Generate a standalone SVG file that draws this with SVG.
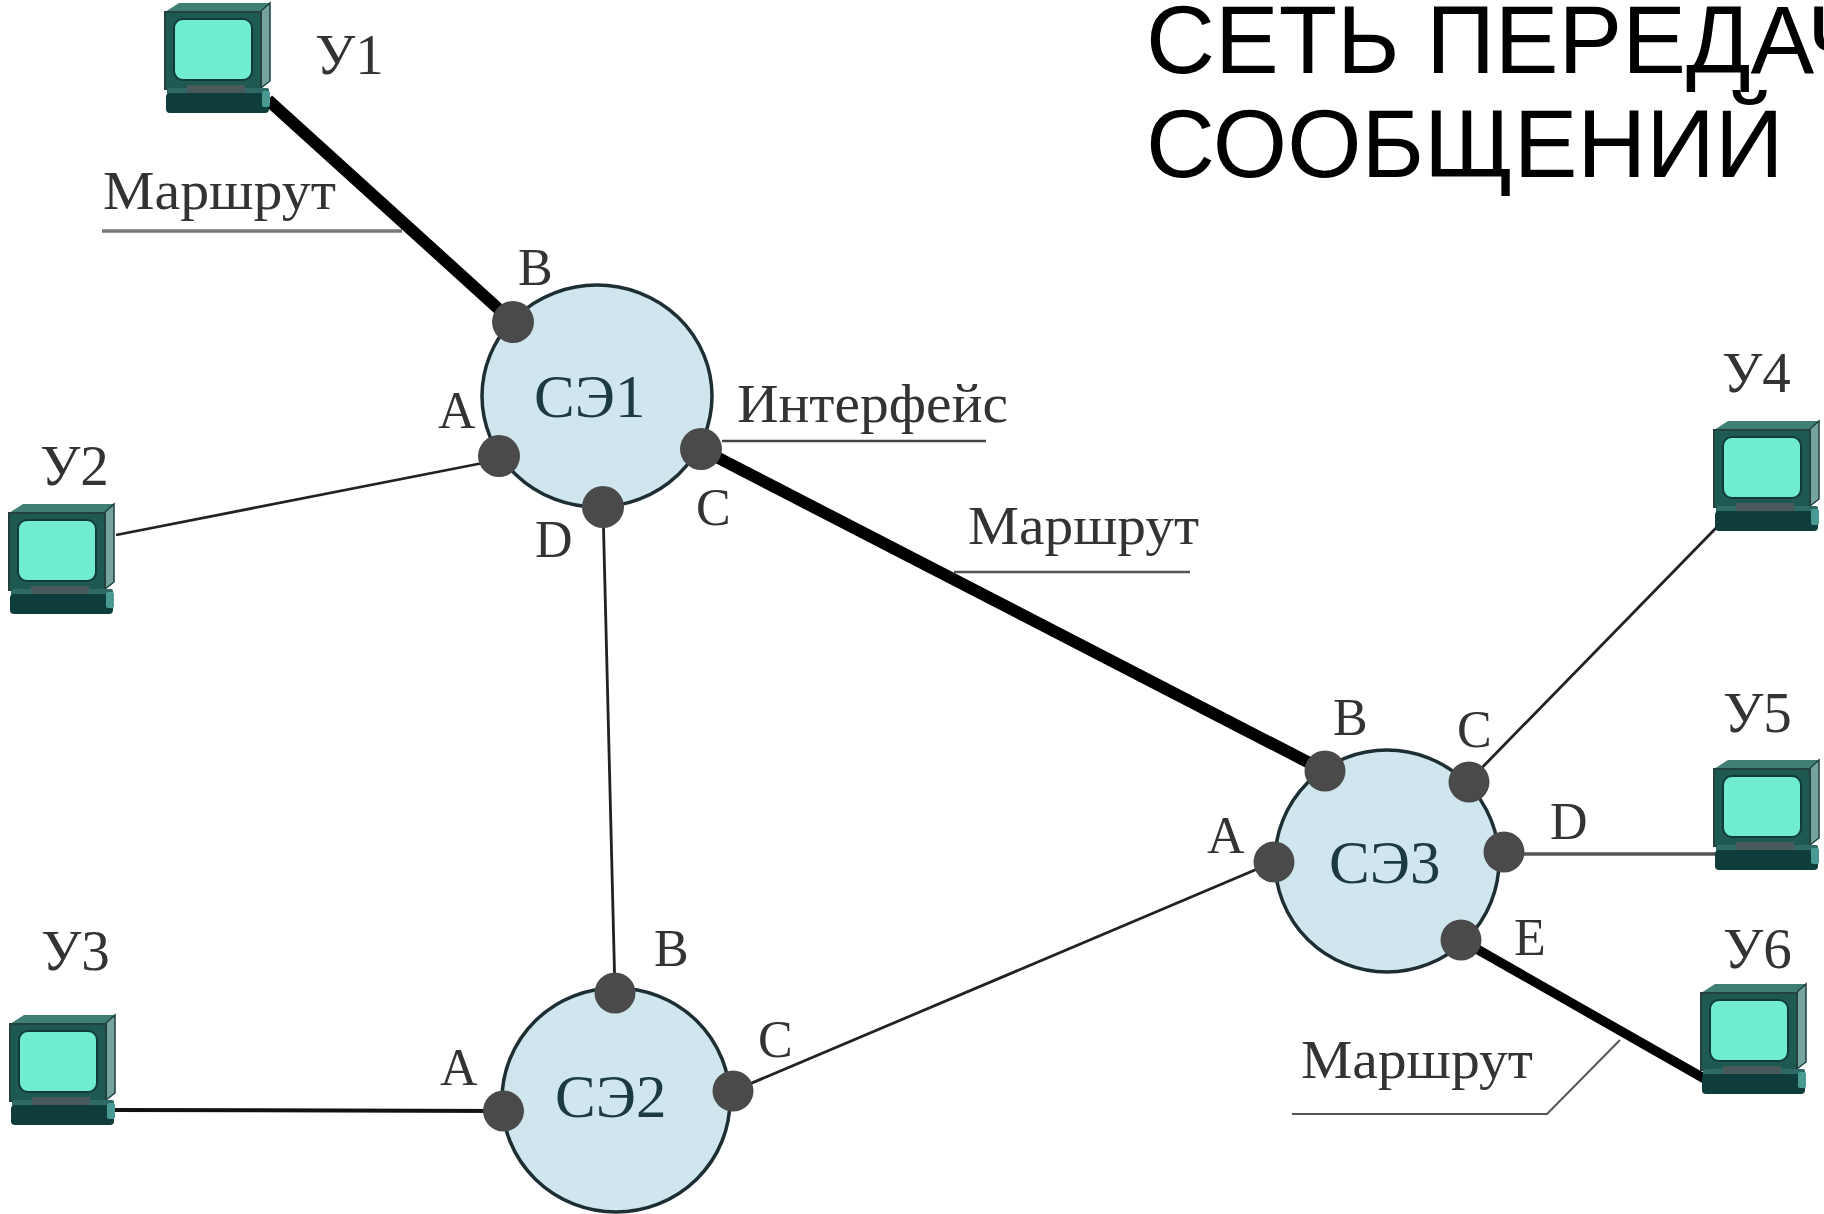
<svg xmlns="http://www.w3.org/2000/svg" width="1824" height="1214" viewBox="0 0 1824 1214">
<style>
.t{font-family:"Liberation Serif","Times New Roman",serif;fill:#333;font-size:52px}
.r{font-size:54px}
.u{font-size:57px}
.se{font-size:61px;fill:#1c3a44}
.title{font-family:"Liberation Sans",Arial,sans-serif;font-size:95.5px;fill:#000}
.sw{fill:#cfe6ee;stroke:#1d2f33;stroke-width:3.5}
.p{fill:#4a4a4a}
.thick{stroke:#000;stroke-width:12;fill:none}
.thin{stroke:#222;stroke-width:2.8;fill:none}
.lead{stroke:#777;stroke-width:3.5;fill:none}
</style>
<defs>
<g id="pc">
<polygon points="0,9 14,0 105,0 96,8" fill="#3f7f74"/>
<polygon points="96,8 105,0 105,78 96,85" fill="#74a49c"/>
<path d="M96,8L105,0V78L96,85" fill="none" stroke="#1d3f3e" stroke-width="1.5"/>
<rect x="0" y="9" width="96" height="77" fill="#1f5a52" stroke="#24403f" stroke-width="2"/>
<rect x="9" y="16" width="78" height="61" rx="9" fill="#70ecd0" stroke="#123a38" stroke-width="2"/>
<rect x="2" y="85" width="102" height="9" rx="2" fill="#2e6b66"/>
<rect x="22" y="82" width="58" height="8" fill="#4a5a5a"/>
<rect x="1" y="90" width="103" height="20" rx="4" fill="#0e3d3c"/>
<rect x="97" y="88" width="8" height="16" rx="2" fill="#4a9a94"/>
</g>
</defs>
<rect width="1824" height="1214" fill="#fff"/>
<text id="title" class="title"><tspan x="1146" y="73">СЕТЬ ПЕРЕДАЧ</tspan><tspan x="1146" y="177">СООБЩЕНИЙ</tspan></text>
<g id="connectors">
<path class="thick" d="M268,100L513,322"/>
<path class="thin" d="M116,535L483,463"/>
<path class="thin" d="M603,507L615,993"/>
<path class="thick" d="M701,449L1325,771"/>
<path class="thin" style="stroke-width:4;stroke:#111" d="M112,1110L504,1111"/>
<path class="thin" d="M733,1091L1274,862"/>
<path class="thin" d="M1468,782L1716,528"/>
<path class="thin" style="stroke-width:3.5;stroke:#555" d="M1504,854L1716,854"/>
<path class="thick" style="stroke-width:9.5" d="M1461,940L1705,1079"/>
<path class="lead" d="M102,231L402,231"/>
<path class="lead" style="stroke:#444;stroke-width:2.5" d="M722,441L986,441"/>
<path class="lead" style="stroke:#555;stroke-width:2.5" d="M954,572L1190,572"/>
<path class="lead" style="stroke:#555;stroke-width:2" d="M1292,1114L1547,1114L1620,1040"/>
</g>
<g id="y1"><use href="#pc" x="165" y="3"/><text class="t u" x="315" y="74">У1</text></g>
<g id="y2"><use href="#pc" x="9" y="504"/><text class="t u" x="40" y="485">У2</text></g>
<g id="y3"><use href="#pc" x="10" y="1015"/><text class="t u" x="41" y="970">У3</text></g>
<g id="y4"><use href="#pc" x="1714" y="421"/><text class="t u" x="1722" y="392">У4</text></g>
<g id="y5"><use href="#pc" x="1714" y="760"/><text class="t u" x="1723" y="732">У5</text></g>
<g id="y6"><use href="#pc" x="1701" y="984"/><text class="t u" x="1723" y="968">У6</text></g>
<g id="se1">
<ellipse class="sw" cx="597" cy="396" rx="115" ry="111"/>
<circle class="p" cx="513" cy="322" r="21"/><circle class="p" cx="499" cy="456" r="21"/><circle class="p" cx="701" cy="449" r="21"/><circle class="p" cx="603" cy="507" r="21"/>
<text class="t se" x="534" y="417">СЭ1</text>
<text class="t" x="438" y="428">A</text><text class="t" x="518" y="285">B</text><text class="t" x="696" y="525">C</text><text class="t" x="535" y="557">D</text>
</g>
<g id="se2">
<ellipse class="sw" cx="616" cy="1100" rx="114" ry="112"/>
<circle class="p" cx="615" cy="993" r="20.5"/><circle class="p" cx="503.5" cy="1111" r="20.5"/><circle class="p" cx="733" cy="1091" r="20.5"/>
<text class="t se" x="555" y="1117">СЭ2</text>
<text class="t" x="440" y="1085">A</text><text class="t" x="654" y="966">B</text><text class="t" x="758" y="1057">C</text>
</g>
<g id="se3">
<ellipse class="sw" cx="1387" cy="861" rx="112" ry="111"/>
<circle class="p" cx="1325" cy="771" r="20.5"/><circle class="p" cx="1469" cy="782" r="20.5"/><circle class="p" cx="1504" cy="852" r="20.5"/><circle class="p" cx="1274" cy="862" r="20.5"/><circle class="p" cx="1461" cy="940" r="20.5"/>
<text class="t se" x="1329" y="883">СЭ3</text>
<text class="t" x="1207" y="853">A</text><text class="t" x="1333" y="735">B</text><text class="t" x="1457" y="747">C</text><text class="t" x="1550" y="839">D</text><text class="t" x="1514" y="955">E</text>
</g>
<g id="labels">
<text class="t r" x="103" y="209" textLength="233" lengthAdjust="spacingAndGlyphs">Маршрут</text>
<text class="t r" x="737" y="422" textLength="271" lengthAdjust="spacingAndGlyphs">Интерфейс</text>
<text class="t r" x="968" y="544" textLength="231" lengthAdjust="spacingAndGlyphs">Маршрут</text>
<text class="t r" x="1301" y="1078" textLength="232" lengthAdjust="spacingAndGlyphs">Маршрут</text>
</g>
</svg>
